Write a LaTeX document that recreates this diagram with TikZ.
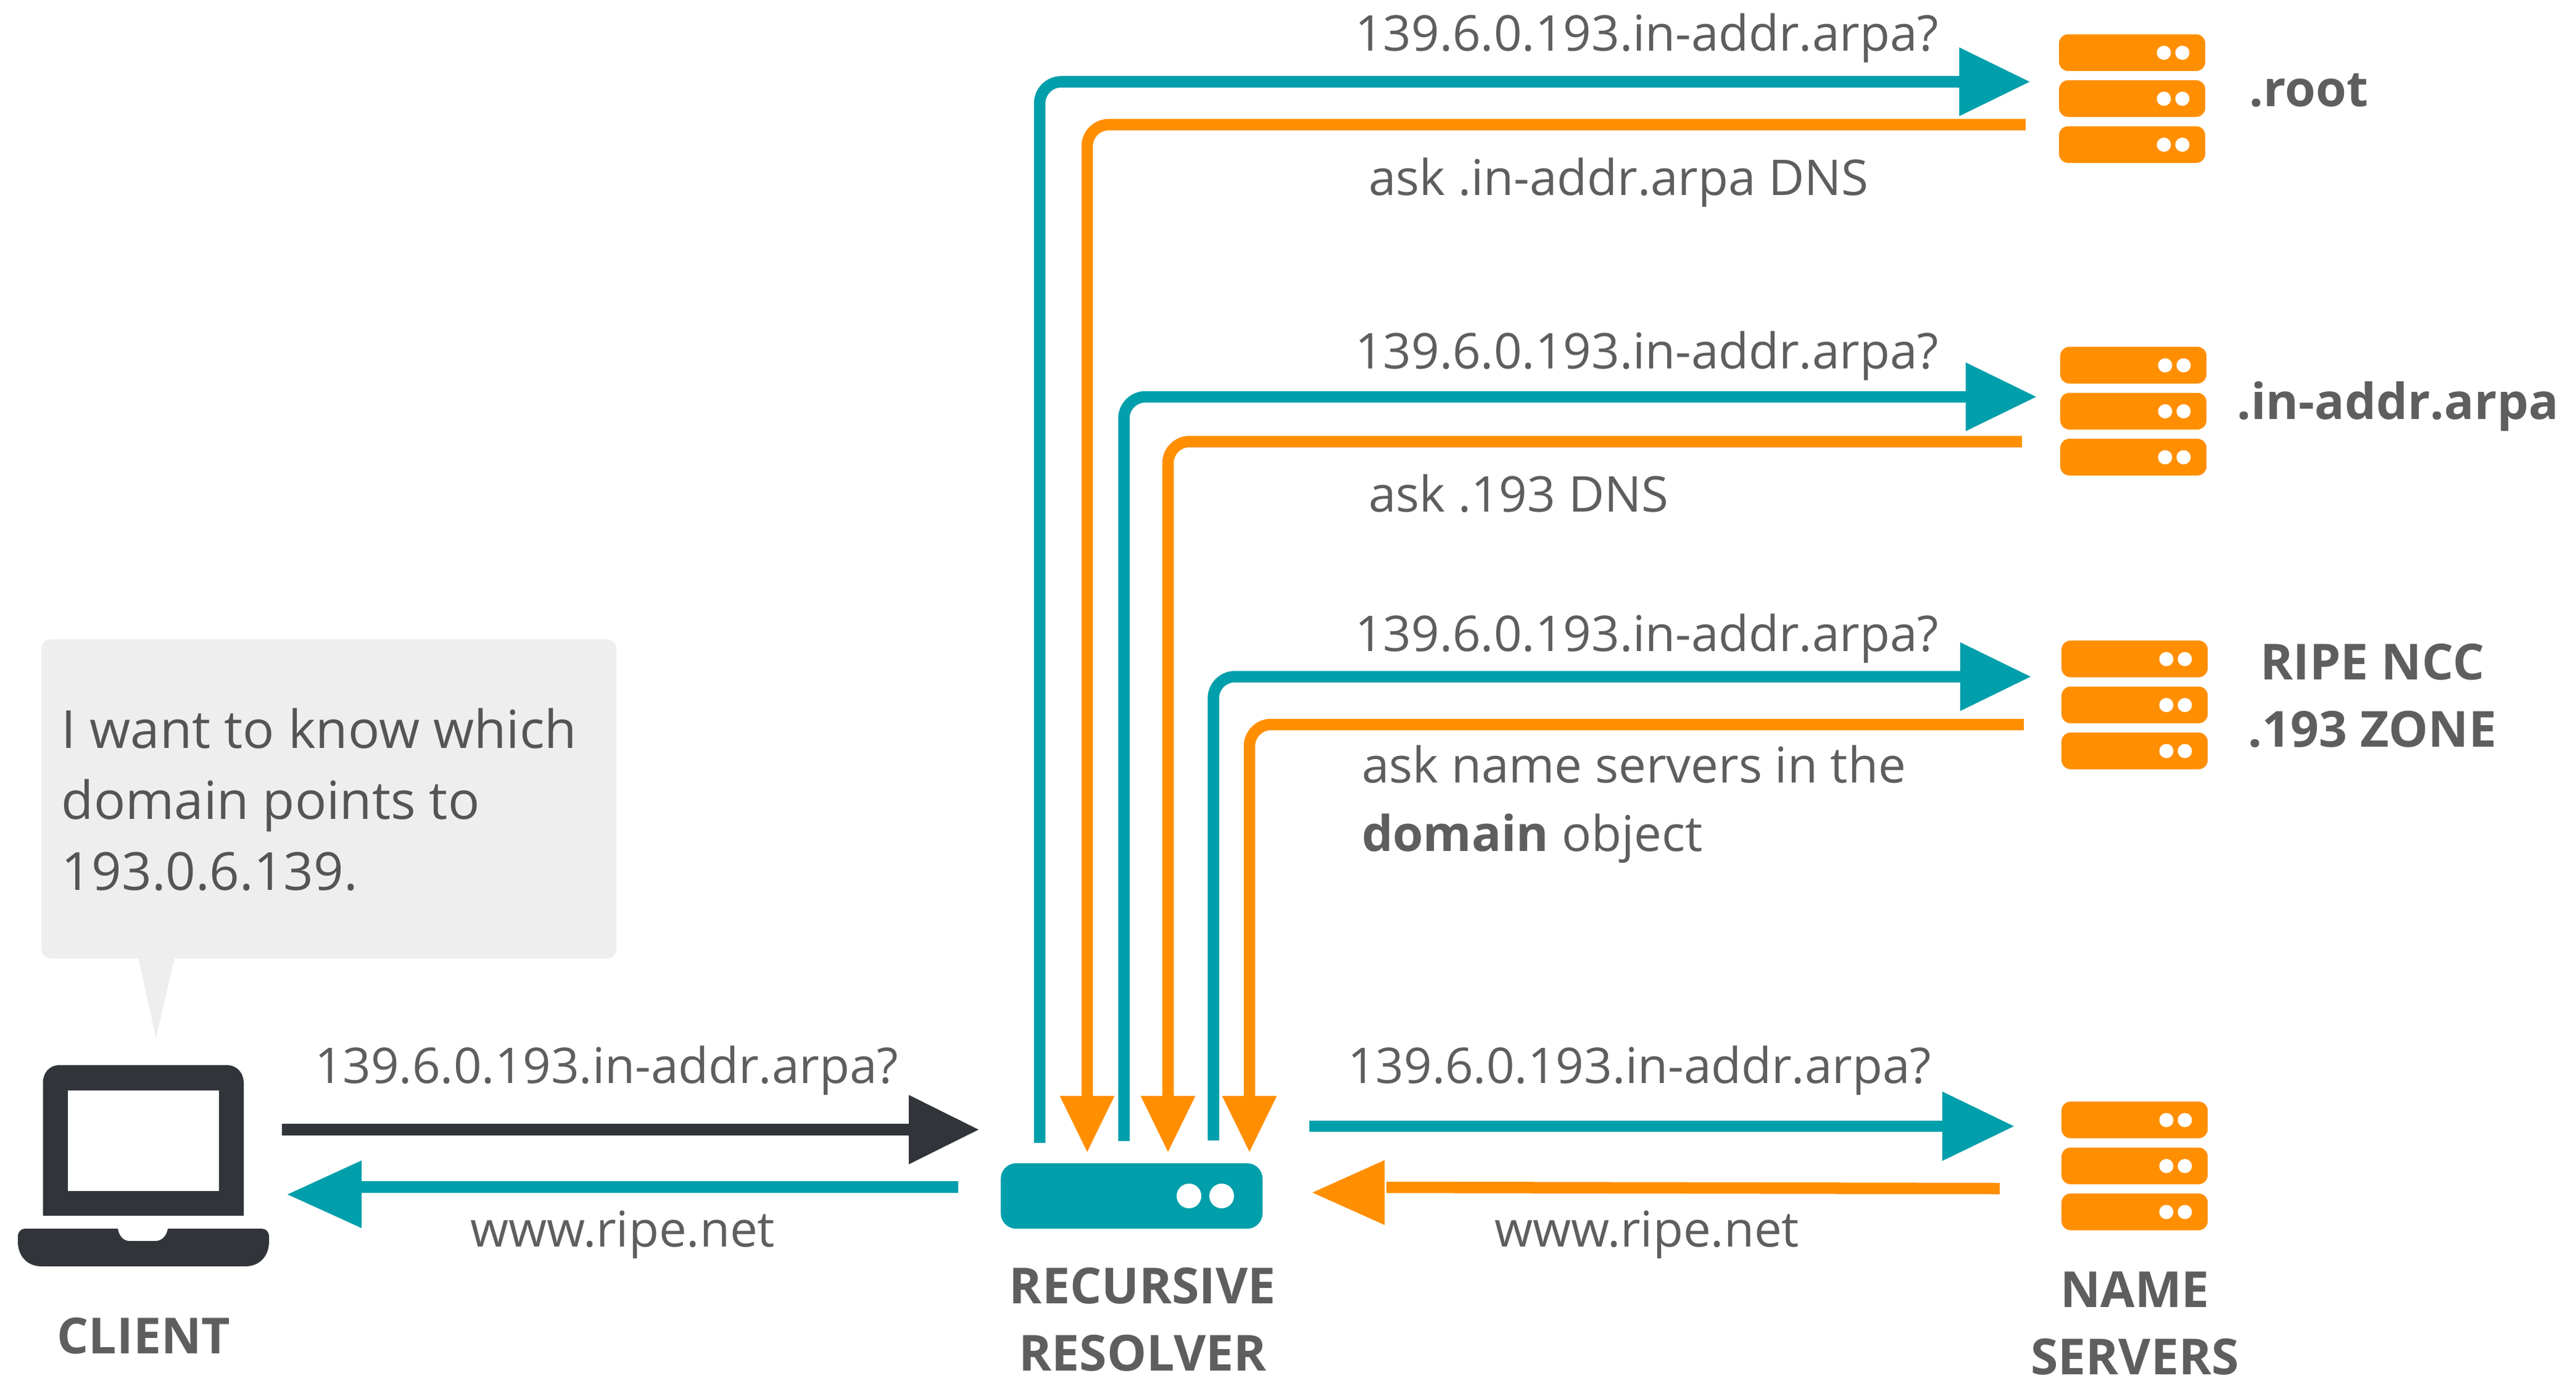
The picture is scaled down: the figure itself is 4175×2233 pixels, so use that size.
\documentclass[tikz,border=0pt]{standalone}
\usepackage{fontspec}
\usetikzlibrary{arrows.meta}
\setmainfont{Open Sans}
\newfontfamily\lightf{Open Sans}
\definecolor{teal1}{HTML}{009FAB}
\definecolor{orng}{HTML}{FF8F00}
\definecolor{darkc}{HTML}{31353A}
\definecolor{graytxt}{HTML}{5E5E5E}
\definecolor{calltxt}{HTML}{555555}
\definecolor{callbg}{HTML}{EEEEEE}
\tikzset{
  lbl/.style={inner sep=0pt,outer sep=0pt,anchor=base west,text=graytxt,font=\fontsize{22.7}{31.4}\selectfont\lightf},
  blbl/.style={inner sep=0pt,outer sep=0pt,anchor=base,text=graytxt,align=center,font=\fontsize{22.9}{31}\selectfont\bfseries},
  srv/.style={rectangle,fill=orng,rounded corners=0.15cm,minimum width=2.37cm,minimum height=0.595cm,inner sep=0pt,outer sep=0pt},
  dot/.style={fill=white},
  wire/.style={line width=0.185cm,line cap=butt},
  tealw/.style={wire,draw=teal1,rounded corners=0.35cm},
  orngw/.style={wire,draw=orng,rounded corners=0.35cm},
  bighead/.style={-{Triangle[length=1.15cm,width=1.06cm]}},
  smallhead/.style={-{Triangle[length=0.92cm,width=0.83cm]}},
}
\newcommand{\serverstack}[3]{%
  \node[srv,anchor=north west] (#3a) at (#1,#2) {};
  \node[srv,anchor=north west] (#3b) at (#1,#2+74.5) {};
  \node[srv,anchor=north west] (#3c) at (#1,#2+149) {};
  \foreach \k in {0,74.5,149}{
    \fill[dot] (#1+170,#2+30+\k) circle (0.115cm);
    \fill[dot] (#1+200,#2+30+\k) circle (0.115cm);
  }%
}
\begin{document}
\begin{tikzpicture}[x=0.01cm,y=-0.01cm]
\useasboundingbox (0,0) rectangle (4175,2233);

% callout
\fill[callbg,rounded corners=0.15cm] (67,1036) rectangle (999,1553);
\fill[callbg] (224,1552) -- (283,1552) -- (253,1682) -- cycle;
\node[lbl,text=calltxt,align=left,font=\fontsize{24.2}{32.6}\selectfont\lightf] (speech) at (100,1442) {I want to know which\\domain points to\\193.0.6.139.};

% laptop
\fill[darkc] (69.5,1970) -- (69.5,1756) .. controls (69.5,1738) and (80,1726) .. (97,1726) -- (367,1726) .. controls (384,1726) and (395,1738) .. (395,1756) -- (395,1970) -- cycle;
\fill[white] (110,1767) rectangle (355,1930);
\fill[darkc] (41,1991) -- (191,1991) .. controls (193,2003) and (200,2011) .. (210,2011) -- (252,2011) .. controls (262,2011) and (270,2003) .. (272,1991) -- (424,1991) .. controls (431,1991) and (436,1996) .. (436,2004) -- (436,2012) .. controls (436,2036) and (420,2052) .. (398,2052) -- (67,2052) .. controls (45,2052) and (29,2036) .. (29,2012) -- (29,2004) .. controls (29,1996) and (34,1991) .. (41,1991) -- cycle;

% resolver
\node[rectangle,fill=teal1,rounded corners=0.25cm,minimum width=4.24cm,minimum height=1.06cm,inner sep=0pt,outer sep=0pt,anchor=north west] (resolver) at (1622,1885) {};
\fill[dot] (1927,1938) circle (0.2cm);
\fill[dot] (1980,1938) circle (0.2cm);

% servers
\serverstack{3337}{55.5}{root}
\serverstack{3339}{562}{arpa}
\serverstack{3341}{1038}{ripe}
\serverstack{3341}{1785}{ns}

% coordinates for wire ends
\coordinate (t1s) at (1685,1852); \coordinate (t1e) at (3290.5,132.5);
\coordinate (o1s) at (3283,202);  \coordinate (o1e) at (1762,1868);
\coordinate (t2s) at (1821.5,1849); \coordinate (t2e) at (3301,643);
\coordinate (o2s) at (3277,715.5);  \coordinate (o2e) at (1893,1868);
\coordinate (t3s) at (1966.5,1848); \coordinate (t3e) at (3292,1096.5);
\coordinate (o3s) at (3280,1174);   \coordinate (o3e) at (2025,1868);

\draw[tealw,bighead] (t1s) |- (t1e);
\draw[orngw,smallhead] (o1s) -| (o1e);
\draw[tealw,bighead] (t2s) |- (t2e);
\draw[orngw,smallhead] (o2s) -| (o2e);
\draw[tealw,bighead] (t3s) |- (t3e);
\draw[orngw,smallhead] (o3s) -| (o3e);

% client -> resolver
\coordinate (d1s) at (457,1830.5); \coordinate (d1e) at (1587,1830.5);
\draw[wire,draw=darkc,-{Triangle[length=1.14cm,width=1.07cm]}] (d1s) -- (d1e);
% resolver -> client
\coordinate (c1s) at (1553,1923.5); \coordinate (c1e) at (586,1923.5);
\draw[wire,draw=teal1] (c1s) -- (c1e);
\fill[teal1] (466,1935.5) -- (586,1880.5) -- (586,1990) -- cycle;
% resolver -> name servers
\coordinate (n1s) at (2122,1825); \coordinate (n1e) at (3265,1825);
\draw[wire,draw=teal1,-{Triangle[length=1.17cm,width=1.07cm]}] (n1s) -- (n1e);
% name servers -> resolver
\coordinate (n2s) at (3241,1926); \coordinate (n2e) at (2247,1924);
\draw[wire,draw=orng] (n2s) -- (n2e);
\fill[orng] (2127,1932.5) -- (2244,1880) -- (2244,1985) -- cycle;

% labels
\node[lbl] (q1) at (2196,82) {139.6.0.193.in-addr.arpa?};
\node[lbl] (a1) at (2218,316) {ask .in-addr.arpa DNS};
\node[lbl] (q2) at (2196,597) {139.6.0.193.in-addr.arpa?};
\node[lbl] (a2) at (2218,829) {ask .193 DNS};
\node[lbl] (q3) at (2196,1055) {139.6.0.193.in-addr.arpa?};
\node[lbl,align=left] (a3) at (2207,1379) {ask name servers in the\\{\normalfont\bfseries domain} object};
\node[lbl] (q4) at (510,1755) {139.6.0.193.in-addr.arpa?};
\node[lbl] (r4) at (762,2020) {www.ripe.net};
\node[lbl] (q5) at (2184,1755) {139.6.0.193.in-addr.arpa?};
\node[lbl] (r5) at (2422,2020) {www.ripe.net};

\node[blbl] (lroot) at (3742,172) {.root};
\node[blbl] (larpa) at (3886,679.5) {.in-addr.arpa};
\node[blbl] (lripe) at (3845,1210) {RIPE NCC\\.193 ZONE};
\node[blbl] (lclient) at (233,2193) {CLIENT};
\node[blbl] (lresolver) at (1852,2221) {RECURSIVE\\RESOLVER};
\node[blbl] (lns) at (3460,2227) {NAME\\SERVERS};
\end{tikzpicture}
\end{document}
